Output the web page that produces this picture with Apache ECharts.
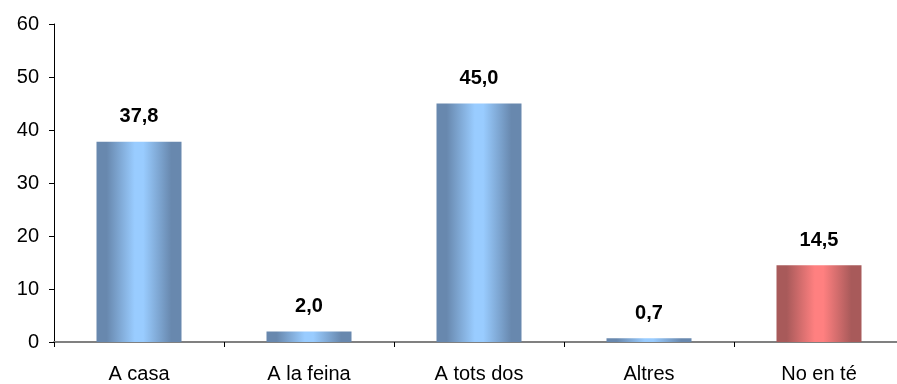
<!DOCTYPE html>
<html><head><meta charset="utf-8">
<script src="https://cdn.jsdelivr.net/npm/echarts@6/dist/echarts.min.js"></script>
<style>html,body{margin:0;padding:0;background:#fff}#c{width:897px;height:384px}</style>
</head><body><div id="c"></div>
<script>
const categories = ["A casa", "A la feina", "A tots dos", "Altres", "No en té"];
const values = [37.8, 2.0, 45.0, 0.7, 14.5];
const yTicks = [0, 10, 20, 30, 40, 50, 60];

function grad(edge, mid) {
  return new echarts.graphic.LinearGradient(0, 0, 1, 0, [
    {offset: 0, color: edge}, {offset: 0.12, color: edge},
    {offset: 0.45, color: mid}, {offset: 0.55, color: mid},
    {offset: 0.88, color: edge}, {offset: 1, color: edge}
  ]);
}
const blue = grad('#6888ae', '#99ccff');
const red = grad('#a85a5a', '#ff8080');

const chart = echarts.init(document.getElementById('c'));
chart.setOption({
  animation: false,
  grid: {left: 54, width: 850, top: 24, bottom: 42, containLabel: false, outerBoundsMode: 'none'},
  xAxis: {
    type: 'category', data: categories,
    axisLine: {lineStyle: {color: '#808080', width: 2}},
    axisTick: {show: true, length: 5, lineStyle: {color: '#000'}},
    axisLabel: {color: '#000', fontSize: 20, fontFamily: 'Liberation Sans', margin: 22}
  },
  yAxis: {
    type: 'value', min: yTicks[0], max: yTicks[yTicks.length - 1], interval: 10,
    axisLine: {show: true, lineStyle: {color: '#000', width: 1}},
    axisTick: {show: true, length: 5, lineStyle: {color: '#000'}},
    splitLine: {show: false},
    axisLabel: {color: '#000', fontSize: 20, fontFamily: 'Liberation Sans', margin: 15}
  },
  series: [{
    type: 'bar', barWidth: '50%',
    data: values.map((v, i) => ({value: v, itemStyle: {color: i === 4 ? red : blue}})),
    label: {
      show: true, position: 'top', distance: 15, color: '#000', fontSize: 20, fontWeight: 'bold',
      fontFamily: 'Liberation Sans',
      formatter: p => p.value.toFixed(1).replace('.', ',')
    }
  }]
});
</script></body></html>
